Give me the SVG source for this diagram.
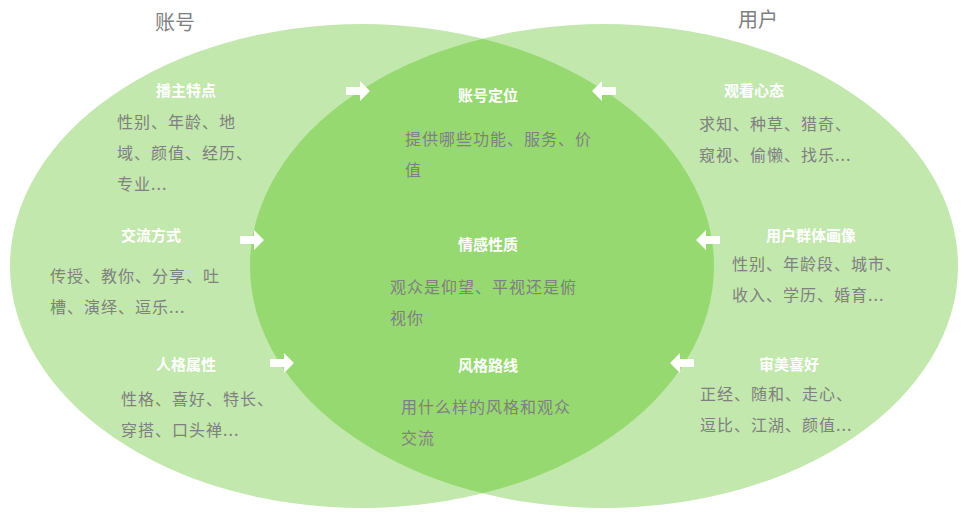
<svg xmlns="http://www.w3.org/2000/svg" width="971" height="518" viewBox="0 0 971 518">
<style>
.t{font-family:"Noto Sans CJK SC",sans-serif;font-size:20px;fill:#7f7f7f}
.h{font-family:"Noto Sans CJK SC",sans-serif;font-size:15px;font-weight:bold;fill:#fff;text-anchor:middle}
.b{font-family:"Noto Sans CJK SC",sans-serif;font-size:16px;fill:#808080;letter-spacing:1px}
.a{fill:#fff}
</style>
<defs>
<clipPath id="cl"><ellipse cx="362" cy="266" rx="352" ry="242"/></clipPath>
<path id="ar" d="M-12,-4 H2 V-10 L12,0 L2,10 V4 H-12 Z"/>
</defs>
<rect width="971" height="518" fill="#fff"/>
<g id="sets">
<ellipse cx="362" cy="266" rx="352" ry="242" fill="#c2e8ad"/>
<ellipse cx="604" cy="266" rx="354" ry="242" fill="#c2e8ad"/>
<ellipse cx="604" cy="266" rx="354" ry="242" fill="#96d970" clip-path="url(#cl)"/>
</g>
<text class="t" x="155" y="30">账号</text>
<text class="t" x="738" y="27">用户</text>
<g id="connectors">
<use href="#ar" class="a" x="358" y="91"/>
<use href="#ar" class="a" x="604" y="91" transform="rotate(180 604 91)"/>
<use href="#ar" class="a" x="252" y="240"/>
<use href="#ar" class="a" x="708" y="240" transform="rotate(180 708 240)"/>
<use href="#ar" class="a" x="282" y="363"/>
<use href="#ar" class="a" x="682" y="363" transform="rotate(180 682 363)"/>
</g>
<g id="n1"><text class="h" x="186" y="96">播主特点</text>
<text class="b" x="117" y="128">性别、年龄、地</text><text class="b" x="117" y="159">域、颜值、经历、</text><text class="b" x="117" y="190">专业...</text></g>
<g id="n2"><text class="h" x="151" y="241">交流方式</text>
<text class="b" x="50" y="282">传授、教你、分享、吐</text><text class="b" x="50" y="313">槽、演绎、逗乐...</text></g>
<g id="n3"><text class="h" x="186" y="370">人格属性</text>
<text class="b" x="121" y="405">性格、喜好、特长、</text><text class="b" x="121" y="436">穿搭、口头禅...</text></g>
<g id="n4"><text class="h" x="488" y="101">账号定位</text>
<text class="b" x="405" y="145">提供哪些功能、服务、价</text><text class="b" x="405" y="176">值</text></g>
<g id="n5"><text class="h" x="488" y="250">情感性质</text>
<text class="b" x="390" y="293">观众是仰望、平视还是俯</text><text class="b" x="390" y="324">视你</text></g>
<g id="n6"><text class="h" x="488" y="371">风格路线</text>
<text class="b" x="401" y="413">用什么样的风格和观众</text><text class="b" x="401" y="444">交流</text></g>
<g id="n7"><text class="h" x="754" y="96">观看心态</text>
<text class="b" x="699" y="130">求知、种草、猎奇、</text><text class="b" x="699" y="161">窥视、偷懒、找乐...</text></g>
<g id="n8"><text class="h" x="811" y="241">用户群体画像</text>
<text class="b" x="732" y="270">性别、年龄段、城市、</text><text class="b" x="732" y="301">收入、学历、婚育...</text></g>
<g id="n9"><text class="h" x="789" y="370">审美喜好</text>
<text class="b" x="700" y="400">正经、随和、走心、</text><text class="b" x="700" y="431">逗比、江湖、颜值...</text></g>
</svg>
